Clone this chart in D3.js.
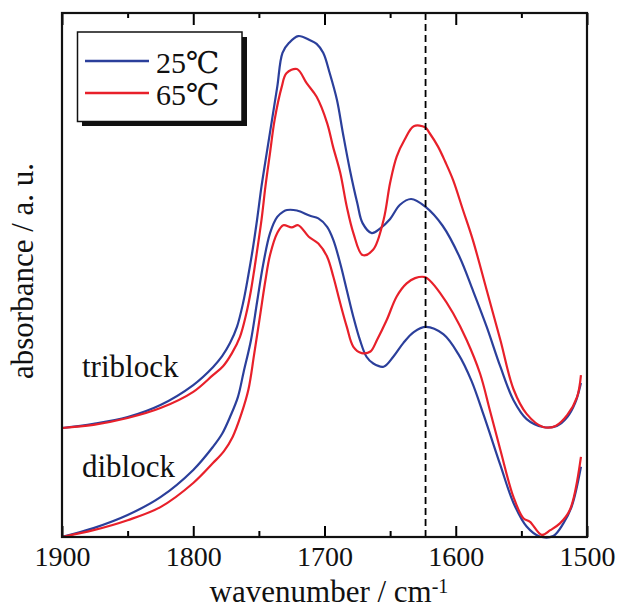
<!DOCTYPE html>
<html><head><meta charset="utf-8">
<script src="https://cdn.jsdelivr.net/npm/d3@7"></script>
<style>html,body{margin:0;padding:0;background:#fff;}svg{display:block;}
svg text{font-family:"Liberation Serif","Times New Roman",Times,"DejaVu Serif",serif;}</style>
</head><body>
<script>
// ---- data (wavenumber cm^-1, absorbance a.u.) ----
const triblock25_w = [1900,1876,1850,1825,1800,1785,1778,1772,1766.7,1762,1758,1754.5,1751.4,1748,1744,1740,1736,1732,1727,1720,1711,1706,1701,1696,1690.5,1686,1680.6,1675,1671,1664,1658,1650,1642.5,1634,1623,1610,1597,1587,1576.4,1566,1556,1546,1533.5,1523,1515,1509,1504.6];
const triblock25_a = [.208,.216,.229,.252,.290,.324,.345,.370,.401,.447,.500,.552,.605,.669,.733,.796,.859,.924,.943,.956,.948,.941,.924,.885,.834,.771,.700,.637,.599,.580,.588,.607,.634,.645,.630,.594,.534,.471,.401,.325,.261,.225,.210,.212,.229,.256,.294];

const triblock65_w = [1900,1876,1850,1825,1800,1785,1777.3,1770.5,1764.4,1759.8,1756,1752.2,1748,1745,1741.5,1738,1732.6,1729,1721,1713.6,1706,1698,1693.5,1688,1683,1678,1671,1663,1655,1650,1645,1639,1632,1623.4,1620,1613.5,1608,1602,1594.5,1587,1576.4,1566,1556,1546,1533.5,1524,1515,1507.6,1504.6];
const triblock65_a = [.208,.214,.227,.246,.277,.309,.326,.351,.382,.424,.471,.532,.605,.669,.733,.796,.859,.885,.893,.866,.840,.790,.745,.695,.630,.580,.538,.548,.605,.676,.726,.758,.784,.782,.771,.745,.716,.681,.624,.567,.471,.376,.282,.235,.210,.212,.233,.267,.309];

const diblock25_w = [1900,1876,1850,1825,1800,1785,1778,1772,1766,1761.6,1756,1751.4,1746.8,1741.5,1736,1731.4,1728.6,1721,1711,1704.7,1698,1693.3,1688,1683,1678,1673,1668,1662.8,1655,1647.6,1640,1632,1622.7,1609.5,1598,1588,1578.5,1566,1556,1546,1536,1525.7,1518,1511.7,1504.6];
const diblock25_a = [0,.017,.042,.076,.128,.172,.197,.229,.267,.315,.376,.448,.519,.580,.611,.621,.624,.623,.613,.608,.592,.567,.522,.471,.420,.376,.344,.331,.325,.344,.370,.391,.401,.387,.349,.298,.231,.137,.065,.020,.001,.002,.026,.058,.134];

const diblock65_w = [1900,1876,1850,1825,1800,1785,1776.6,1770,1763.6,1758,1753.7,1749,1745,1741.5,1736,1731.4,1725,1720,1712,1704.7,1698,1693.3,1688,1683,1678,1671.7,1665,1660,1652.6,1645,1637.4,1631,1623.4,1620,1612,1602,1591.7,1581.5,1574,1566,1556,1548.5,1543.4,1534.5,1528,1520.6,1513,1504.6];
const diblock65_a = [0,.013,.032,.057,.103,.141,.164,.191,.233,.281,.347,.424,.490,.538,.580,.595,.591,.595,.573,.560,.535,.497,.446,.401,.363,.351,.354,.376,.414,.459,.484,.494,.496,.490,.466,.427,.376,.312,.242,.166,.076,.036,.029,.004,.013,.026,.052,.153];

const xTicksMajor = [1900,1800,1700,1600,1500];
const xTicksMinor = [1850,1750,1650,1550];
const markerLine = 1623;
const legendLabels = ["25\u2103","65\u2103"];
const sampleLabels = ["triblock","diblock"];
const sampleLabelY = [0.305, 0.115];

const colors = {c25:"#2b3f9b", c65:"#e8202a"};

// ---- layout ----
const W=620,H=608;
const m={l:62,r:33,t:13,b:71};
const svg=d3.select("body").append("svg").attr("width",W).attr("height",H);
const x=d3.scaleLinear().domain([1900,1500]).range([m.l,W-m.r]);
const y=d3.scaleLinear().domain([0,1]).range([H-m.b,H-m.b-524]);

const series=[
 {w:triblock25_w,a:triblock25_a,c:colors.c25},
 {w:triblock65_w,a:triblock65_a,c:colors.c65},
 {w:diblock25_w,a:diblock25_a,c:colors.c25},
 {w:diblock65_w,a:diblock65_a,c:colors.c65}
];
const line=d3.line().x(d=>x(d[0])).y(d=>y(d[1])).curve(d3.curveCatmullRom.alpha(0.5));
svg.append("defs").append("clipPath").attr("id","clip").append("rect")
  .attr("x",m.l).attr("y",m.t).attr("width",W-m.r-m.l).attr("height",H-m.b-m.t+2);
const g=svg.append("g").attr("clip-path","url(#clip)");
series.forEach(s=>{
  g.append("path").datum(d3.zip(s.w,s.a)).attr("d",line)
   .attr("fill","none").attr("stroke",s.c).attr("stroke-width",2.2).attr("stroke-linejoin","round");
});

// dashed marker
svg.append("line").attr("x1",x(markerLine)).attr("x2",x(markerLine))
  .attr("y1",m.t).attr("y2",H-m.b).attr("stroke","#000").attr("stroke-width",1.8)
  .attr("stroke-dasharray","7,4");

// axes
const axB=svg.append("g").attr("transform",`translate(0,${H-m.b})`)
  .call(d3.axisBottom(x).tickValues(xTicksMajor).tickSize(-11).tickPadding(9).tickFormat(d3.format("d")));
axB.select(".domain").remove();
axB.selectAll(".tick line").attr("stroke-width",2);
axB.selectAll("text").attr("font-size",28).attr("fill","#111");
const axBm=svg.append("g").attr("transform",`translate(0,${H-m.b})`)
  .call(d3.axisBottom(x).tickValues(xTicksMinor).tickSize(-6).tickFormat(""));
axBm.select(".domain").remove();
axBm.selectAll(".tick line").attr("stroke-width",2);
const axT=svg.append("g").attr("transform",`translate(0,${m.t})`)
  .call(d3.axisTop(x).tickValues(xTicksMajor).tickSize(-12).tickFormat(""));
axT.select(".domain").remove();
axT.selectAll(".tick line").attr("stroke-width",2);
const axTm=svg.append("g").attr("transform",`translate(0,${m.t})`)
  .call(d3.axisTop(x).tickValues(xTicksMinor).tickSize(-5).tickFormat(""));
axTm.select(".domain").remove();
axTm.selectAll(".tick line").attr("stroke-width",2);
svg.selectAll("g").attr("font-family",null);

// frame
svg.append("rect").attr("x",m.l).attr("y",m.t).attr("width",W-m.r-m.l).attr("height",H-m.b-m.t)
  .attr("fill","none").attr("stroke","#111").attr("stroke-width",2.2);

// axis titles
const xt=svg.append("text").attr("x",329).attr("y",602).attr("text-anchor","middle")
  .attr("font-size",31).attr("fill","#111");
xt.append("tspan").text("wavenumber / cm");
xt.append("tspan").attr("dy",-9).attr("font-size",20).text("-1");
svg.append("text").attr("transform","translate(33,271) rotate(-90)").attr("text-anchor","middle")
  .attr("font-size",31).attr("fill","#111").text("absorbance / a. u.");

// sample labels
sampleLabels.forEach((t,i)=>{
  svg.append("text").attr("x",82).attr("y",y(sampleLabelY[i]))
   .attr("font-size",31).attr("fill","#111").text(t);
});

// legend
const lg=svg.append("g");
lg.append("rect").attr("x",82).attr("y",37).attr("width",165).attr("height",89).attr("fill","#111");
lg.append("rect").attr("x",77.5).attr("y",32).attr("width",164.5).attr("height",89.5)
  .attr("fill","#fff").attr("stroke","#111").attr("stroke-width",1.5);
[colors.c25,colors.c65].forEach((c,i)=>{
  const yy=61+i*32;
  lg.append("line").attr("x1",85).attr("x2",149).attr("y1",yy).attr("y2",yy)
    .attr("stroke",c).attr("stroke-width",2.5);
  lg.append("text").attr("x",156).attr("y",yy+12)
    .attr("font-size",30).attr("fill","#111").text(legendLabels[i]);
});
</script>
</body></html>
